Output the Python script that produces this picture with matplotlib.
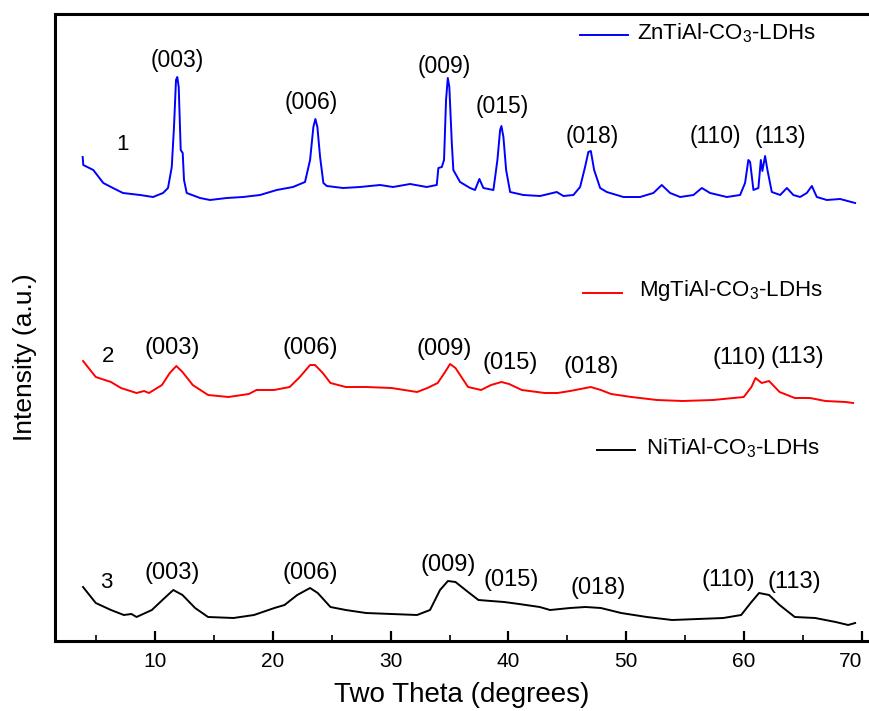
import matplotlib
matplotlib.use('Agg')
import matplotlib.pyplot as plt
from matplotlib.lines import Line2D

plt.rcParams['font.family'] = ['Liberation Sans', 'DejaVu Sans']
plt.rcParams['mathtext.fontset'] = 'custom'
plt.rcParams['mathtext.rm'] = 'Liberation Sans'
plt.rcParams['mathtext.it'] = 'Liberation Sans:italic'

# ---- data (2theta in degrees, intensity in a.u.) ----
zn_theta = [3.86, 3.91, 4.76, 5.61, 6.43, 7.28, 8.73, 9.83, 10.68, 11.10, 11.42, 11.61,
            11.78, 11.89, 12.01, 12.18, 12.35, 12.46, 12.69, 13.82, 14.67, 16.09, 17.47,
            18.91, 20.33, 21.71, 22.73, 23.16, 23.44, 23.61, 23.78, 24.01, 24.29, 24.58,
            25.96, 27.40, 29.10, 30.20, 31.65, 33.06, 33.91, 34.05, 34.34, 34.53, 34.70,
            34.85, 34.98, 35.19, 35.32, 35.89, 36.74, 37.16, 37.53, 37.87, 38.72, 39.06,
            39.29, 39.40, 39.57, 39.80, 40.14, 41.26, 42.68, 44.10, 44.66, 45.51, 46.08,
            46.50, 46.78, 46.99, 47.27, 47.78, 48.34, 49.75, 51.17, 52.30, 53.01, 53.72,
            54.57, 55.70, 56.41, 57.11, 58.53, 59.66, 60.08, 60.36, 60.51, 60.79, 61.21,
            61.42, 61.55, 61.78, 61.98, 62.35, 63.06, 63.63, 64.18, 64.75, 65.32, 65.75,
            66.17, 67.02, 68.15, 69.42]
zn_int = [484, 476, 471, 458, 453, 448, 446, 444, 448, 453, 474, 514,
          561, 564, 554, 491, 488, 461, 448, 443, 441, 443, 444,
          446, 451, 454, 459, 481, 514, 522, 514, 484, 458, 455,
          453, 454, 456, 454, 457, 454, 456, 473, 474, 481, 541,
          563, 554, 498, 471, 459, 453, 451, 462, 453, 451, 481,
          511, 515, 504, 471, 449, 446, 445, 449, 445, 446, 454,
          474, 489, 490, 471, 453, 449, 444, 444, 448, 456, 448,
          444, 446, 453, 448, 444, 446, 458, 481, 479, 451, 453,
          481, 470, 485, 471, 449, 446, 453, 446, 444, 448, 455,
          444, 441, 442, 438]

mg_theta = [3.89, 4.97, 6.26, 7.11, 8.43, 9.07, 9.49, 10.59, 11.25, 11.81, 12.33, 13.20,
            14.50, 16.23, 17.96, 18.61, 20.10, 21.43, 22.29, 23.16, 23.58, 24.24, 24.89,
            26.19, 27.91, 30.08, 32.24, 33.12, 33.99, 34.62, 35.04, 35.50, 36.57, 37.67,
            38.52, 39.40, 40.05, 41.13, 43.08, 44.16, 45.23, 46.98, 47.84, 48.71, 50.44,
            52.61, 54.77, 57.37, 59.97, 60.62, 60.97, 61.49, 62.12, 63.01, 64.30, 65.60,
            66.90, 68.63, 69.25]
mg_int = [280, 264, 259, 253, 248, 250, 248, 256, 268, 275, 269, 256,
          246, 244, 247, 251, 251, 254, 264, 276, 276, 268, 258,
          254, 254, 253, 249, 253, 258, 269, 277, 273, 254, 251,
          256, 259, 257, 251, 248, 248, 250, 254, 251, 247, 244,
          241, 240, 241, 244, 254, 263, 258, 260, 249, 243, 243,
          240, 239, 238]

ni_theta = [3.89, 4.97, 6.26, 7.35, 8.00, 8.43, 9.73, 10.81, 11.55, 12.33, 13.40, 14.50,
            16.66, 18.40, 20.13, 20.99, 22.07, 23.16, 23.81, 24.89, 26.19, 27.91, 30.08,
            32.24, 33.34, 34.19, 34.86, 35.50, 36.57, 37.45, 38.52, 39.63, 40.90, 42.65,
            43.53, 45.23, 46.54, 47.84, 49.56, 51.74, 53.89, 56.08, 58.24, 59.75, 60.62,
            61.27, 62.12, 63.01, 64.30, 66.03, 67.77, 68.83, 69.42]
ni_int = [54, 38, 31, 26, 27, 24, 31, 43, 51, 46, 33, 24,
          23, 26, 33, 36, 46, 53, 48, 34, 31, 28, 27,
          26, 31, 51, 60, 59, 49, 41, 40, 39, 37, 34,
          31, 33, 34, 33, 28, 24, 21, 22, 23, 26, 39,
          48, 46, 36, 24, 23, 19, 16, 18]

hkl = ['(003)', '(006)', '(009)', '(015)', '(018)', '(110)', '(113)']
series_names = ['ZnTiAl-CO$_3$-LDHs', 'MgTiAl-CO$_3$-LDHs', 'NiTiAl-CO$_3$-LDHs']
series_colors = ['#0000ff', '#ff0000', '#000000']

# label anchor positions (2theta, a.u.) for each curve's hkl tags
zn_lab = [(11.87, 581), (23.24, 539), (34.53, 574), (39.43, 534), (47.10, 505), (57.60, 505), (63.06, 505)]
mg_lab = [(11.44, 293), (23.16, 293), (34.51, 292), (40.14, 278), (46.98, 274), (59.62, 283), (64.48, 284)]
ni_lab = [(11.44, 68), (23.16, 68), (34.86, 76), (40.26, 61), (47.61, 53), (58.64, 61), (64.30, 59)]

fig = plt.figure(figsize=(8.69, 7.11), dpi=100)
ax = fig.add_axes([55 / 869, 1 - 641 / 711, (869 - 55) / 869, (641 - 14) / 711])

ax.plot(zn_theta, zn_int, color=series_colors[0], lw=1.4)
ax.plot(mg_theta, mg_int, color=series_colors[1], lw=1.4)
ax.plot(ni_theta, ni_int, color=series_colors[2], lw=1.4)

ax.set_xlim(1.51, 70.6)
ax.set_ylim(0, 627)

for (x, y), t in zip(zn_lab, hkl):
    ax.text(x, y, t, ha='center', va='center', fontsize=16.5)
for (x, y), t in zip(mg_lab, hkl):
    ax.text(x, y, t, ha='center', va='center', fontsize=17)
for (x, y), t in zip(ni_lab, hkl):
    ax.text(x, y, t, ha='center', va='center', fontsize=17)

ax.text(7.20, 496, '1', ha='center', va='center', fontsize=16)
ax.text(6.05, 284, '2', ha='center', va='center', fontsize=16)
ax.text(5.84, 58, '3', ha='center', va='center', fontsize=16)

# legend entries placed beside each curve
def legend_entry(x0, x1, y, xt, label, color):
    fig.add_artist(Line2D([x0 / 869, x1 / 869], [1 - y / 711, 1 - y / 711], color=color, lw=1.4))
    fig.text(xt / 869, 1 - (y - 2) / 711, label, ha='left', va='center', fontsize=16)

legend_entry(580, 628, 35, 637, series_names[0], series_colors[0])
legend_entry(583, 622, 292.7, 639, series_names[1], series_colors[1])
legend_entry(597, 635, 450, 646, series_names[2], series_colors[2])

for side in ['left', 'top', 'bottom']:
    ax.spines[side].set_linewidth(2.2)
ax.spines['right'].set_visible(False)

ax.set_xticks([10, 20, 30, 40, 50, 60, 70])
ax.set_xticks([5, 15, 25, 35, 45, 55, 65], minor=True)
ax.tick_params(axis='x', which='major', direction='in', length=7, width=1.6, pad=8, labelsize=15)
ax.tick_params(axis='x', which='minor', direction='in', length=4, width=1.2)
ax.set_yticks([])
ax.get_xticklabels()[-1].set_horizontalalignment('right')

ax.set_xlabel('Two Theta (degrees)', fontsize=20, labelpad=8)
fig.text(25 / 869, 1 - 357 / 711, 'Intensity (a.u.)', rotation=90, ha='center', va='center', fontsize=19)

fig.savefig('out.png', dpi=100, facecolor='white')
